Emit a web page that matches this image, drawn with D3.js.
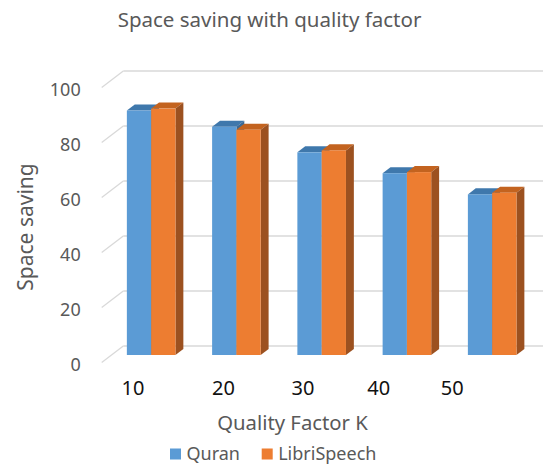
<!DOCTYPE html>
<html>
<head>
<meta charset="utf-8">
<script src="https://cdn.jsdelivr.net/npm/d3@7"></script>
<style>
  html, body { margin: 0; padding: 0; background: #fff; }
  svg { display: block; font-family: "Noto Sans", "Open Sans", sans-serif; }
</style>
</head>
<body>
<svg id="chart" width="543" height="464"></svg>
<script>
// Data
const categories = ["10", "20", "30", "40", "50"];
const seriesNames = ["Quran", "LibriSpeech"];
const quran = [88.9, 83.0, 73.7, 66.1, 58.4];
const libriSpeech = [89.6, 81.9, 74.4, 66.5, 59.0];
const yTicks = [0, 20, 40, 60, 80, 100];

const seriesValues = [quran, libriSpeech];
const colors = {
  front: ["#5B9BD5", "#ED7D31"],
  top:   ["#3F78AC", "#C3631F"],
  side:  ["#3A6A96", "#9C5120"]
};

const svg = d3.select("#chart");

// Oblique projection: depth t runs 0 (front wall) .. 1 (back wall)
const depthDX = 21.6, depthDY = 16.5;
const frontFloorY = 362.5;
const plotLeft = 101.7;

const y = d3.scaleLinear().domain([0, 100]).range([frontFloorY, frontFloorY - 275]);
const proj = (wx, v, t) => [wx + t * depthDX, y(v) - t * depthDY];

// Category band (world x, before depth shift)
const x0 = d3.scaleBand().domain(categories).range([plotLeft, 522])
  .paddingInner(0.43).paddingOuter(0.18);
const x1 = d3.scaleBand().domain(seriesNames).range([0, x0.bandwidth()]);

// Walls: back gridlines and their receding diagonals on the side wall
const grid = svg.append("g").attr("stroke", "#D9D9D9").attr("stroke-width", 1.3).attr("fill", "none");
yTicks.forEach(v => {
  const [bx, by] = proj(plotLeft, v, 1);
  const [fx, fy] = proj(plotLeft, v, 0);
  grid.append("line").attr("x1", bx).attr("y1", by).attr("x2", 543).attr("y2", by);
  grid.append("line").attr("x1", fx).attr("y1", fy).attr("x2", bx).attr("y2", by);
});

// Y tick labels along the front edge
svg.append("g").selectAll("text").data(yTicks).join("text")
  .attr("x", 80.7)
  .attr("y", d => y(d) + 1)
  .attr("text-anchor", "end")
  .attr("dominant-baseline", "central")
  .attr("font-size", 18)
  .attr("fill", "#595959")
  .text(d => d);

// 3D bars
const tFront = 0.4545, tBack = 0.82;
const bars = svg.append("g");
categories.forEach((cat, i) => {
  seriesNames.forEach((s, j) => {
    const v = seriesValues[j][i];
    const wx = x0(cat) + x1(s);
    const w = x1.bandwidth();
    const p = (xx, vv, t) => proj(xx, vv, t).join(",");
    // top face
    bars.append("polygon")
      .attr("points", [p(wx, v, tFront), p(wx + w, v, tFront), p(wx + w, v, tBack), p(wx, v, tBack)].join(" "))
      .attr("fill", colors.top[j]);
    // right side face
    bars.append("polygon")
      .attr("points", [p(wx + w, 0, tFront), p(wx + w, v, tFront), p(wx + w, v, tBack), p(wx + w, 0, tBack)].join(" "))
      .attr("fill", colors.side[j]);
    // front face
    const [fx, fy] = proj(wx, v, tFront);
    const [, fb] = proj(wx, 0, tFront);
    bars.append("rect")
      .attr("x", fx).attr("y", fy)
      .attr("width", w).attr("height", fb - fy)
      .attr("fill", colors.front[j]);
  });
});

// Category labels, foreshortened along the front floor edge
const xLabel = d3.scalePow().exponent(0.91).domain([0, categories.length - 1]).range([133, 452.3]);
svg.append("g").selectAll("text").data(categories).join("text")
  .attr("x", (d, i) => xLabel(i))
  .attr("y", 395)
  .attr("text-anchor", "middle")
  .attr("font-size", 20)
  .attr("fill", "#111")
  .text(d => d);

// Titles
svg.append("text")
  .attr("x", 269.5).attr("y", 26.5)
  .attr("text-anchor", "middle")
  .attr("font-size", 20.5)
  .attr("fill", "#595959")
  .text("Space saving with quality factor");

svg.append("text")
  .attr("transform", "translate(33,227) rotate(-90)")
  .attr("text-anchor", "middle")
  .attr("font-size", 21)
  .attr("fill", "#595959")
  .text("Space saving");

svg.append("text")
  .attr("x", 292.5).attr("y", 430)
  .attr("text-anchor", "middle")
  .attr("font-size", 20.3)
  .attr("fill", "#595959")
  .text("Quality Factor K");

// Legend
const legendX = [170, 261.7];
const legend = svg.append("g");
seriesNames.forEach((s, j) => {
  legend.append("rect")
    .attr("x", legendX[j]).attr("y", 448.5)
    .attr("width", 11).attr("height", 11)
    .attr("fill", colors.front[j]);
  legend.append("text")
    .attr("x", legendX[j] + 16.5).attr("y", 459.5)
    .attr("font-size", 18)
    .attr("fill", "#595959")
    .text(s);
});
</script>
</body>
</html>
